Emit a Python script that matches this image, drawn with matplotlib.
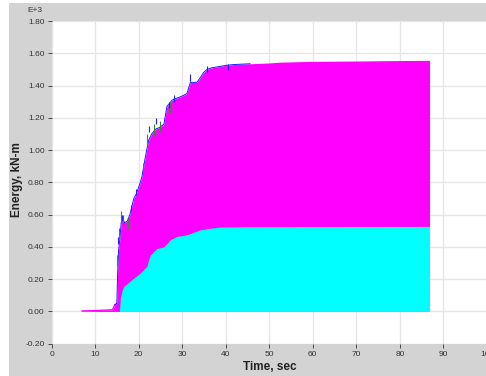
import matplotlib
matplotlib.use("Agg")
import matplotlib.pyplot as plt
from matplotlib.patches import Rectangle

plt.rcParams["font.family"] = ["Liberation Sans", "DejaVu Sans"]

# ---- data (values in E+3 kN-m) ----
t_top = [7, 10, 14.0, 14.5, 14.8, 15.0, 15.2, 15.4, 15.7, 16.0, 16.3, 16.8, 17.4, 18.0,
         18.9, 19.5, 20.4, 20.8, 21.5, 22.3, 23.0, 23.9, 24.8, 25.8, 26.5, 27.7, 28.6,
         29.6, 31.1, 31.9, 32.6, 33.4, 34.2, 34.9, 35.7, 36.8, 38.0, 40.0, 41.8, 45.6,
         50, 52.5, 60, 70, 80, 86.8]
e_top = [0.003, 0.005, 0.01, 0.04, 0.045, 0.05, 0.25, 0.38, 0.45, 0.55, 0.57, 0.55, 0.56,
         0.60, 0.70, 0.73, 0.80, 0.84, 0.95, 1.06, 1.10, 1.13, 1.14, 1.16, 1.27, 1.31,
         1.32, 1.33, 1.35, 1.42, 1.42, 1.42, 1.45, 1.48, 1.50, 1.51, 1.515, 1.525, 1.53,
         1.535, 1.54, 1.545, 1.55, 1.552, 1.555, 1.556]

t_low = [15.6, 15.8, 16.2, 16.6, 17.5, 18.9, 20.4, 21.9, 22.3, 22.7, 24.2, 25.8, 27.3,
         28.8, 31.1, 34.2, 36.5, 38.8, 45, 60, 86.8]
e_low = [0.0, 0.08, 0.13, 0.155, 0.175, 0.207, 0.238, 0.28, 0.32, 0.35, 0.39, 0.40,
         0.445, 0.465, 0.475, 0.506, 0.516, 0.523, 0.525, 0.526, 0.527]

blue_spike_t = [15.3, 16.1, 18.2, 19.4, 22.3, 24.0, 26.9, 28.2, 31.7, 35.6, 40.5]
blue_spike_e = [0.46, 0.60, 0.66, 0.76, 1.15, 1.20, 1.30, 1.34, 1.47, 1.52, 1.535]
green_spike_t = [15.1, 15.6, 16.0, 16.5, 17.6, 21.0, 22.0, 23.6, 25.0, 27.2]
green_spike_e = [0.35, 0.52, 0.62, 0.60, 0.58, 0.92, 1.10, 1.16, 1.18, 1.30]

x_ticks = [0, 10, 20, 30, 40, 50, 60, 70, 80, 90, 100]
y_ticks = [-0.2, 0.0, 0.2, 0.4, 0.6, 0.8, 1.0, 1.2, 1.4, 1.6, 1.8]

W, H = 486, 376
fig = plt.figure(figsize=(W / 100, H / 100), dpi=100, facecolor="#d3d3d3")
fig.patches.append(Rectangle((0, 0), 9 / W, 1, transform=fig.transFigure,
                             facecolor="white", edgecolor="none", zorder=-5))
fig.patches.append(Rectangle((0, (H - 3) / H), 1, 3 / H, transform=fig.transFigure,
                             facecolor="white", edgecolor="none", zorder=-5))

left, right = 51.5 / W, 487 / W
bottom, top = (H - 343.7) / H, (H - 21) / H
ax = fig.add_axes([left, bottom, right - left, top - bottom])
ax.set_facecolor("white")
ax.set_xlim(0, 100)
ax.set_ylim(-0.2, 1.8)

ax.fill_between(t_top, 0, e_top, color="#ff00ff", lw=0, zorder=2)
ax.plot(t_top[:6], e_top[:6], color="#ff00ff", lw=1.0, zorder=2)
ax.fill_between(t_low, 0, e_low, color="#00ffff", lw=0, zorder=3)

ax.plot(t_top[3:40], e_top[3:40], color="#1a1aff", lw=0.7, zorder=4)
ax.vlines(green_spike_t, [e - 0.07 for e in green_spike_e], green_spike_e,
          color="#2e8b2e", lw=0.8, zorder=5)
ax.vlines(blue_spike_t, [e - 0.04 for e in blue_spike_e], blue_spike_e,
          color="#2020ff", lw=0.8, zorder=5)

ax.set_xticks(x_ticks)
ax.set_yticks(y_ticks)
ax.set_xticklabels([str(v) for v in x_ticks])
ax.set_yticklabels([f"{v:.2f}" for v in y_ticks])
ax.grid(True, color="#e6e6e6", lw=1.0, zorder=1)
ax.set_axisbelow(True)
for s in ax.spines.values():
    s.set_visible(False)
ax.tick_params(axis="both", labelsize=6, colors="#333333", length=3, width=0.6,
               direction="out", pad=2)

fig.text(35 / W, 1 - 10 / H, "E+3", fontsize=6, color="#333333", ha="center", va="center")
fig.text(17 / W, 1 - 180 / H, "Energy, kN-m", fontsize=8.5, fontweight="bold", rotation=90,
         ha="center", va="center", color="#222222")
fig.text(270 / W, 1 - 367 / H, "Time, sec", fontsize=8.5, fontweight="bold",
         ha="center", va="center", color="#222222")

fig.savefig("out.png", dpi=100, facecolor=fig.get_facecolor())
